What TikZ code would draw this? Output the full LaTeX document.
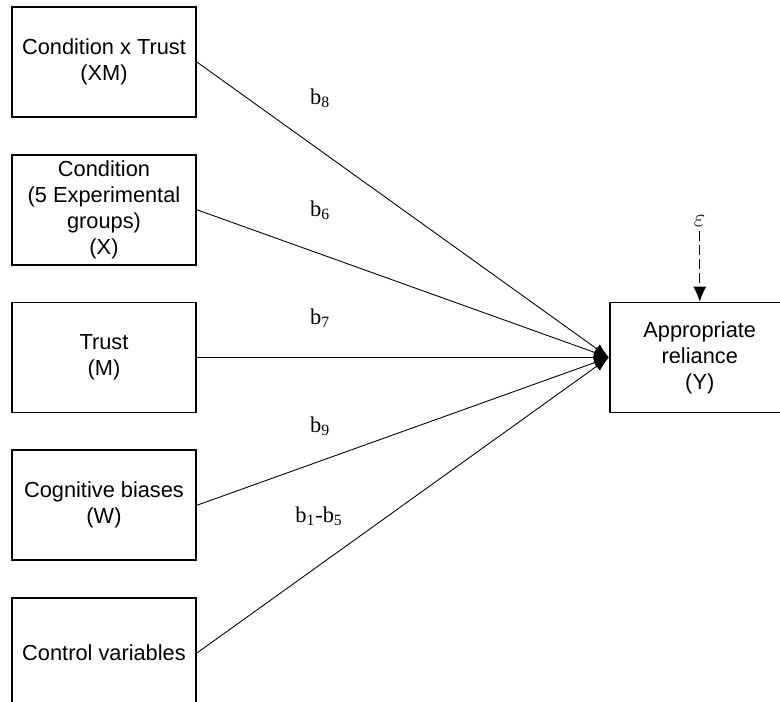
\documentclass[tikz,border=0pt]{standalone}
\usepackage{fontspec}
\setmainfont{Liberation Sans}
\newfontfamily\coeffont{Liberation Serif}
\usetikzlibrary{positioning,arrows.meta}

\begin{document}
\begin{tikzpicture}[auto,node distance=0.72cm]
	\tikzstyle{var}=[rectangle,draw,line width=1pt,minimum width=3.68cm,minimum height=2.2cm,align=center,inner sep=0pt,font=\fontsize{12.4}{14.8}\selectfont]
	\tikzstyle{coef}=[font=\coeffont\fontsize{12.8}{14}\selectfont]
	\tikzstyle{link}=[-{Latex[length=3mm,width=2.2mm]},line width=0.5pt]
		\useasboundingbox (0,0) rectangle (15.6,-14.04);
		\node[var] (xm) at (2.08,-1.24) {Condition x Trust\\(XM)};
		\node[var, below=of xm] (x) {Condition\\(5 Experimental\\groups)\\(X)};
		\node[var, below=of x] (m) {Trust\\(M)};
		\node[var, below=of m] (w) {Cognitive biases\\(W)};
		\node[var, below=of w] (ctrl) {Control variables};
		\node[var, right=8.24cm of m, minimum width=3.6cm] (y) {Appropriate\\reliance\\(Y)};
		\node (eps) [above=1.42cm of y, inner sep=2pt, font=\fontsize{15}{17}\selectfont] {$\varepsilon$};
			\draw[-{Latex[length=3mm,width=2.6mm]},line width=0.5pt,dash pattern=on 0.2cm off 0.08cm] (eps) -- (y);
		% paths into Y
			\draw[link] (xm.east) -- (y.west);
			\draw[link] (x.east) -- (y.west);
			\draw[link] (m.east) -- (y.west);
			\draw[link] (w.east) -- (y.west);
			\draw[link] (ctrl.east) -- (y.west);
		\node[coef] (b8) at (6.4,-1.96) {b\textsubscript{8}};
		\node[coef] (b6) at (6.4,-4.2) {b\textsubscript{6}};
		\node[coef] (b7) at (6.4,-6.36) {b\textsubscript{7}};
		\node[coef] (b9) at (6.4,-8.52) {b\textsubscript{9}};
		\node[coef] (b15) at (6.38,-10.32) {b\textsubscript{1}-b\textsubscript{5}};
\end{tikzpicture}
\end{document}
